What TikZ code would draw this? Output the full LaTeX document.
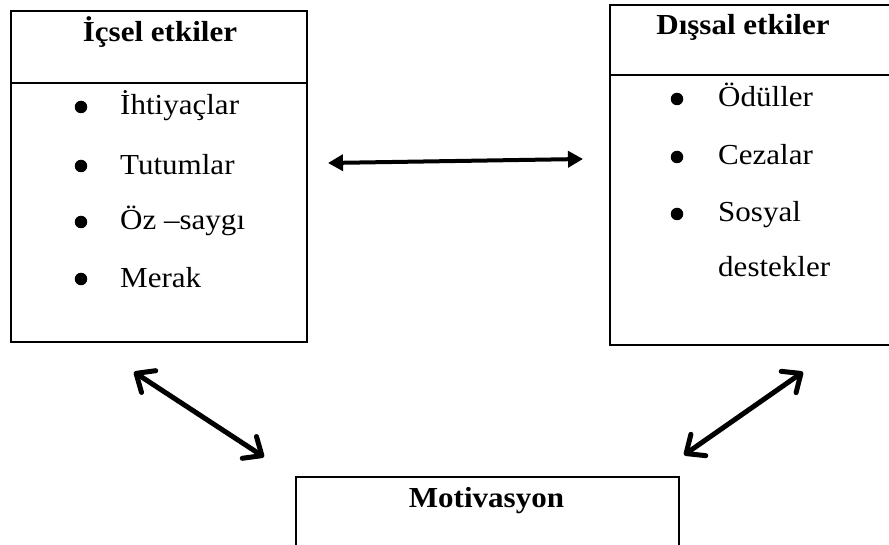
\documentclass[tikz,border=0pt]{standalone}
\usepackage{fontspec}
\setmainfont{Liberation Serif}[FakeStretch=1.07]
\usetikzlibrary{arrows.meta}
\definecolor{inkBlack}{RGB}{0,0,0}

\begin{document}
\begin{tikzpicture}[
  x=1pt, y=-1pt,
  font=\fontsize{29}{34}\selectfont,
  panel/.style={draw=inkBlack, line width=2.2pt, inner sep=0pt, anchor=north west},
  head/.style={font=\fontsize{29}{34}\selectfont\bfseries, anchor=base, inner sep=0pt},
  item/.style={anchor=base west, inner sep=0pt},
  dot/.style={circle, fill=inkBlack, inner sep=0pt, minimum size=12.5pt},
  rule/.style={draw=inkBlack, line width=2.2pt},
  link/.style={{Triangle[length=15pt,width=16pt]}-{Triangle[length=15pt,width=16pt]},
               line width=4pt, draw=inkBlack},
  slant/.style={{Straight Barb[round,length=15pt,width=26pt]}-{Straight Barb[round,length=15pt,width=26pt]},
               line width=5pt, line cap=round, draw=inkBlack}
]
\clip (0,0) rectangle (889,545);

% left panel
\node[panel, minimum width=296pt, minimum height=331pt] (icsel) at (10,10) {};
\draw[rule] ([yshift=-73pt]icsel.north west) -- ([yshift=-73pt]icsel.north east);
\node[head] (icselT) at (160,42) {İçsel etkiler};
\node[dot] (i1) at (81,107) {};
\node[item] (ihtiyac) at (120,115) {İhtiyaçlar};
\node[dot] (i2) at (81,166) {};
\node[item] (tutum) at (120,175) {Tutumlar};
\node[dot] (i3) at (81,222) {};
\node[item] (ozsaygi) at (120,230) {Öz –saygı};
\node[dot] (i4) at (81,279) {};
\node[item] (merak) at (120,288) {Merak};

% right panel
\node[panel, minimum width=291pt, minimum height=340pt] (dissal) at (609,4) {};
\draw[rule] ([yshift=-71pt]dissal.north west) -- ([yshift=-71pt]dissal.north east);
\node[head] (dissalT) at (743,35) {Dışsal etkiler};
\node[dot] (d1) at (677,99) {};
\node[item] (odul) at (718,107) {Ödüller};
\node[dot] (d2) at (677,157) {};
\node[item] (ceza) at (718,165) {Cezalar};
\node[dot] (d3) at (677,214) {};
\node[item] (sosyal) at (718,222) {Sosyal};
\node[item] (destek) at (718,277) {destekler};

% bottom panel
\node[panel, minimum width=383pt, minimum height=100pt] (motiv) at (295,476) {};
\node[head] (motivT) at (486.5,507) {Motivasyon};

% arrow ends
\coordinate (hL) at (328,163);
\coordinate (hR) at (583,159);
\coordinate (lU) at (134,372);
\coordinate (lD) at (264,457);
\coordinate (rU) at (803,372);
\coordinate (rD) at (684,455);

\draw[link] (hL) -- (hR);
\draw[slant] (lU) -- (lD);
\draw[slant] (rD) -- (rU);
\end{tikzpicture}
\end{document}
